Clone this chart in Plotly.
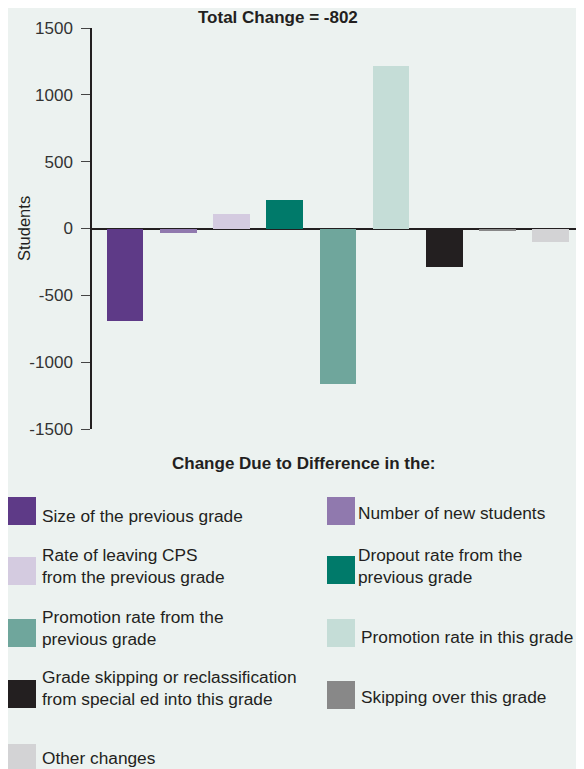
import plotly.graph_objects as go

# ---- data ----
categories = [
    "Size of the previous grade",
    "Number of new students",
    "Rate of leaving CPS<br>from the previous grade",
    "Dropout rate from the<br>previous grade",
    "Promotion rate from the<br>previous grade",
    "Promotion rate in this grade",
    "Grade skipping or reclassification<br>from special ed into this grade",
    "Skipping over this grade",
    "Other changes",
]
values = [-690, -35, 105, 215, -1160, 1217, -285, -20, -100]
colors = ["#5e3a87", "#9079ae", "#d4cbe0", "#007a6a", "#6fa69c",
          "#c5ddd7", "#231f20", "#888888", "#d3d3d5"]
tick_vals = [1500, 1000, 500, 0, -500, -1000, -1500]
tick_text = ["1500", "1000", "500", "0", "-500", "-1000", "-1500"]
title_text = "<b>Total Change = -802</b>"
legend_title = "<b>Change Due to Difference in the:</b>"
y_title = "Students"

# ---- layout constants (pixels, in the reference's page coordinates) ----
OFF = 8  # page body margin
W, H = 584 - OFF, 769 - OFF
ML, MR, MT, MB = 92 - OFF, 0, 28 - OFF, 340
PW, PH = W - ML - MR, H - MT - MB
BG = "#ecf2f0"
FONT = "Liberation Sans, Arial, sans-serif"
TXT = "#231f20"


def px(x):
    return (x - OFF - ML) / PW


def py(y):
    return 1 - (y - OFF - MT) / PH


fig = go.Figure()
fig.add_trace(go.Bar(
    x=list(range(len(values))), y=values, width=0.69,
    marker=dict(color=colors, line=dict(width=0)),
    showlegend=False, hoverinfo="skip",
))

shapes = []
annotations = []

# title
annotations.append(dict(text=title_text, x=px(277.5), y=py(17), xref="paper", yref="paper",
                        xanchor="center", yanchor="middle", showarrow=False,
                        font=dict(family=FONT, size=17, color=TXT)))
# y title
annotations.append(dict(text=y_title, x=px(24), y=py(229), xref="paper", yref="paper",
                        xanchor="center", yanchor="middle", showarrow=False, textangle=-90,
                        font=dict(family=FONT, size=16.5, color=TXT)))
# legend heading
annotations.append(dict(text=legend_title, x=px(304), y=py(463), xref="paper", yref="paper",
                        xanchor="center", yanchor="middle", showarrow=False,
                        font=dict(family=FONT, size=17, color=TXT)))

# legend positions: (square left x, square top y, text x, text center y)
leg_pos = [
    (8, 497, 40, 516),
    (327, 497, 356, 513),
    (8, 557, 40, 565.5),
    (327, 556, 356, 565.5),
    (8, 619, 40, 628),
    (327, 619, 359, 637),
    (8, 680, 40, 688),
    (327, 681, 359, 697),
    (8, 744, 40, 758),
]
SQ = 28
for cat, col, (sx, sy, tx, ty) in zip(categories, colors, leg_pos):
    shapes.append(dict(type="rect", xref="paper", yref="paper",
                       x0=px(sx), x1=px(sx + SQ), y0=py(sy + SQ), y1=py(sy),
                       fillcolor=col, line=dict(width=0), layer="above"))
    annotations.append(dict(text=cat, x=px(tx), y=py(ty), xref="paper", yref="paper",
                            xanchor="left", yanchor="middle", align="left", showarrow=False,
                            font=dict(family=FONT, size=17.3, color=TXT)))

fig.update_layout(
    width=W, height=H,
    margin=dict(l=ML, r=MR, t=MT, b=MB, pad=0),
    paper_bgcolor=BG, plot_bgcolor=BG,
    font=dict(family=FONT, color=TXT),
    shapes=shapes, annotations=annotations,
    bargap=0,
)
fig.update_xaxes(range=[-0.62, 8.625], showticklabels=False, showline=False,
                 zeroline=False, showgrid=False, ticks="")
fig.update_yaxes(range=[-1500, 1500], tickvals=tick_vals, ticktext=tick_text,
                 showline=True, linecolor=TXT, linewidth=1.5,
                 ticks="outside", ticklen=9, tickwidth=1.2, tickcolor="#444",
                 tickfont=dict(family=FONT, size=17, color="#333"),
                 showgrid=False, zeroline=True, zerolinecolor=TXT, zerolinewidth=2,
                 ticklabelstandoff=5)

fig.write_html("out.html")
